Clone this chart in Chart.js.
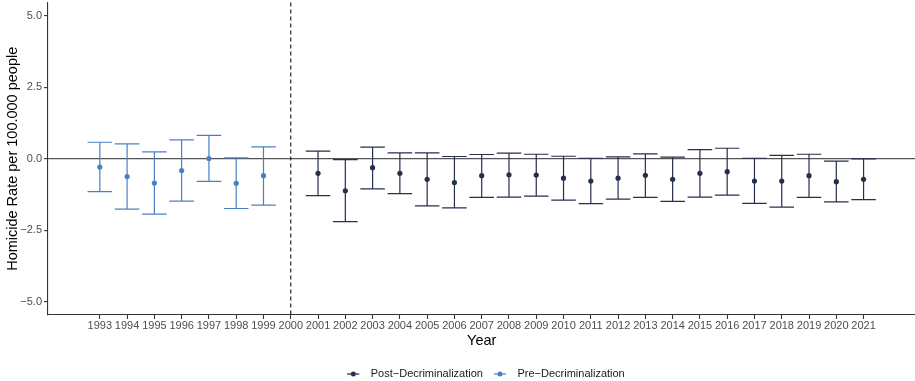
<!DOCTYPE html>
<html>
<head>
<meta charset="utf-8">
<script src="https://cdn.jsdelivr.net/npm/chart.js@4.4.1/dist/chart.umd.min.js"></script>
<style>
html,body{margin:0;padding:0;background:#fff;overflow:hidden;}
#wrap{width:918px;height:381px;position:relative;}
</style>
</head>
<body>
<div id="wrap"><canvas id="c"></canvas></div>
<script>
const preYears = [1993, 1994, 1995, 1996, 1997, 1998, 1999];
const preEst = [-0.29, -0.62, -0.85, -0.41, 0.01, -0.86, -0.59];
const preLow = [-1.15, -1.76, -1.94, -1.48, -0.79, -1.74, -1.62];
const preHigh = [0.58, 0.52, 0.24, 0.66, 0.82, 0.03, 0.42];

const postYears = [2001, 2002, 2003, 2004, 2005, 2006, 2007, 2008, 2009, 2010, 2011,
                   2012, 2013, 2014, 2015, 2016, 2017, 2018, 2019, 2020, 2021];
const postEst = [-0.51, -1.12, -0.31, -0.51, -0.72, -0.83, -0.59, -0.56, -0.57, -0.68, -0.78,
                 -0.68, -0.58, -0.72, -0.51, -0.45, -0.78, -0.78, -0.59, -0.80, -0.72];
const postLow = [-1.29, -2.20, -1.05, -1.22, -1.65, -1.72, -1.35, -1.34, -1.31, -1.45, -1.57,
                 -1.41, -1.35, -1.49, -1.34, -1.27, -1.56, -1.69, -1.35, -1.51, -1.43];
const postHigh = [0.27, -0.03, 0.41, 0.21, 0.21, 0.08, 0.15, 0.20, 0.16, 0.09, 0.02,
                  0.07, 0.17, 0.06, 0.32, 0.37, 0.02, 0.12, 0.16, -0.08, 0.00];

const xTickYears = [1993, 1994, 1995, 1996, 1997, 1998, 1999, 2000, 2001, 2002, 2003, 2004,
                    2005, 2006, 2007, 2008, 2009, 2010, 2011, 2012, 2013, 2014, 2015, 2016,
                    2017, 2018, 2019, 2020, 2021];
const yTickValues = [-5, -2.5, 0, 2.5, 5];
const cutoffYear = 2000;
const seriesNames = ['Post\u2212Decriminalization', 'Pre\u2212Decriminalization'];

const POST_COLOR = '#262f4e';
const PRE_COLOR = '#4a80c3';
const FONT = "'Liberation Sans', Arial, Helvetica, sans-serif";

function toPoints(xs, ys, lo, hi) {
  return xs.map((x, i) => ({ x: x, y: ys[i], lo: lo[i], hi: hi[i] }));
}

function legendIcon(color) {
  const cv = document.createElement('canvas');
  cv.width = 18; cv.height = 8;
  const g = cv.getContext('2d');
  g.strokeStyle = color; g.lineWidth = 1.2;
  g.beginPath(); g.moveTo(0, 4); g.lineTo(12, 4); g.stroke();
  g.fillStyle = color;
  g.beginPath(); g.arc(6, 4, 2.5, 0, Math.PI * 2); g.fill();
  return cv;
}

const errorBarPlugin = {
  id: 'errorBars',
  afterLayout(chart) {
    if (chart.legend) { chart.legend.left += 27; chart.legend.right += 27; }
  },
  beforeDatasetsDraw(chart) {
    const { ctx, scales: { x, y }, chartArea } = chart;
    ctx.save();
    const cx = x.getPixelForValue(cutoffYear);
    ctx.strokeStyle = '#111';
    ctx.lineWidth = 1.1;
    ctx.setLineDash([4, 3]);
    ctx.beginPath();
    ctx.moveTo(cx, chartArea.top);
    ctx.lineTo(cx, chartArea.bottom);
    ctx.stroke();
    ctx.setLineDash([]);
    chart.data.datasets.forEach(ds => {
      ctx.strokeStyle = ds.borderColor;
      ctx.lineWidth = 1.2;
      ds.data.forEach(p => {
        const px = x.getPixelForValue(p.x);
        const half = (x.getPixelForValue(p.x + 0.45) - x.getPixelForValue(p.x - 0.45)) / 2;
        const yl = y.getPixelForValue(p.lo);
        const yh = y.getPixelForValue(p.hi);
        ctx.beginPath();
        ctx.moveTo(px, yl); ctx.lineTo(px, yh);
        ctx.moveTo(px - half, yl); ctx.lineTo(px + half, yl);
        ctx.moveTo(px - half, yh); ctx.lineTo(px + half, yh);
        ctx.stroke();
      });
    });
    ctx.restore();
  }
};

new Chart(document.getElementById('c'), {
  type: 'scatter',
  data: {
    datasets: [
      {
        label: seriesNames[0],
        data: toPoints(postYears, postEst, postLow, postHigh),
        borderColor: POST_COLOR,
        backgroundColor: POST_COLOR,
        pointRadius: 2.6,
        pointHoverRadius: 2.6,
        pointBorderWidth: 0
      },
      {
        label: seriesNames[1],
        data: toPoints(preYears, preEst, preLow, preHigh),
        borderColor: PRE_COLOR,
        backgroundColor: PRE_COLOR,
        pointRadius: 2.6,
        pointHoverRadius: 2.6,
        pointBorderWidth: 0
      }
    ]
  },
  options: {
    responsive: true,
    maintainAspectRatio: false,
    animation: false,
    layout: { padding: { top: 1.4, right: 0, left: 0, bottom: -8.5 } },
    plugins: {
      tooltip: { enabled: false },
      legend: {
        position: 'bottom',
        labels: {
          usePointStyle: true,
          pointStyleWidth: 18,
          padding: 11,
          color: '#1a1a1a',
          font: { family: FONT, size: 11 },
          generateLabels(chart) {
            return chart.data.datasets.map((ds, i) => ({
              text: ds.label,
              pointStyle: legendIcon(ds.borderColor),
              fillStyle: ds.borderColor,
              strokeStyle: ds.borderColor,
              lineWidth: 0,
              hidden: false,
              datasetIndex: i,
              fontColor: '#1a1a1a'
            }));
          }
        }
      }
    },
    scales: {
      x: {
        type: 'linear',
        min: 1991.1,
        max: 2022.9,
        afterBuildTicks(scale) { scale.ticks = xTickYears.map(v => ({ value: v })); },
        afterFit(scale) { scale.height = 42.5; scale.paddingLeft = 0; scale.paddingRight = 0; },
        ticks: {
          autoSkip: false,
          maxRotation: 0,
          padding: 0,
          color: '#4d4d4d',
          font: { family: FONT, size: 11 },
          callback: v => String(v)
        },
        grid: { display: true, drawOnChartArea: false, drawTicks: true, tickLength: 4, tickColor: '#333', tickWidth: 1.1 },
        border: { display: true, color: '#333', width: 1.1 },
        title: {
          display: true,
          text: 'Year',
          color: '#000',
          font: { family: FONT, size: 14.5 },
          padding: { top: 0, bottom: 7.8 }
        }
      },
      y: {
        min: -5.47,
        max: 5.47,
        afterBuildTicks(scale) { scale.ticks = yTickValues.map(v => ({ value: v })); },
        afterFit(scale) { scale.width = 48; scale.paddingTop = 0; scale.paddingBottom = 0; },
        ticks: {
          padding: 2,
          color: '#4d4d4d',
          font: { family: FONT, size: 11 },
          callback: v => v.toFixed(1).replace('-', '\u2212')
        },
        grid: {
          drawTicks: true,
          tickLength: 4,
          tickWidth: 1.1,
          tickColor: '#333',
          lineWidth: 1.2,
          color: ctx => (ctx.tick && ctx.tick.value === 0) ? '#555' : 'rgba(0,0,0,0)'
        },
        border: { display: true, color: '#333', width: 1.1 },
        title: {
          display: true,
          text: 'Homicide Rate per 100.000 people',
          color: '#000',
          font: { family: FONT, size: 14.5 },
          padding: { top: 4, bottom: 0 }
        }
      }
    }
  },
  plugins: [errorBarPlugin]
});
</script>
</body>
</html>
